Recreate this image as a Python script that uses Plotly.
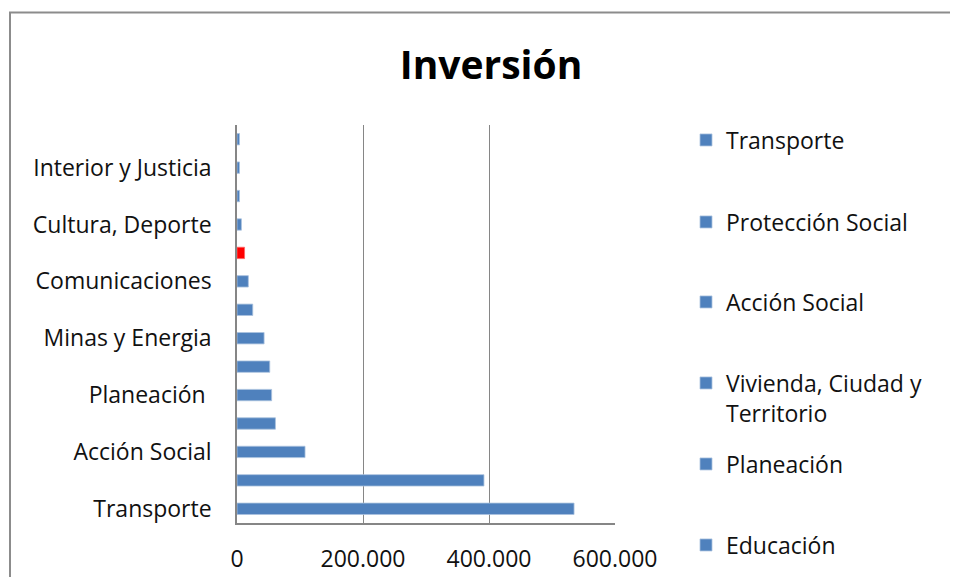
import plotly.graph_objects as go

# Data (bottom to top, as drawn)
categories = [
    "Transporte", "Protección Social", "Acción Social", "Vivienda, Ciudad y Territorio",
    "Planeación", "Educación", "Minas y Energia", "Agricultura", "Comunicaciones",
    "Salud", "Cultura, Deporte", "Ambiente", "Interior y Justicia", "Hacienda",
]
values = [535000, 392000, 108000, 61000, 55000, 52000, 43000, 25000, 18000,
          12000, 7000, 4000, 4000, 4000]
bar_colors = ["#4F81BD"] * 9 + ["#FF0000"] + ["#4F81BD"] * 4

tick_categories = ["Transporte", "Acción Social", "Planeación", "Minas y Energia",
                   "Comunicaciones", "Cultura, Deporte", "Interior y Justicia"]
tick_texts = ["Transporte", "Acción Social", "Planeación\u00a0", "Minas y Energia",
              "Comunicaciones", "Cultura, Deporte", "Interior y Justicia"]

legend_names = ["Transporte", "Protección Social", "Acción Social",
                "Vivienda, Ciudad y<br>Territorio", "Planeación", "Educación"]
legend_centers_px = [140, 222, 302, 398, 464, 545]

x_ticks = [0, 200000, 400000, 600000]
x_tick_text = ["0", "200.000", "400.000", "600.000"]

# page has an 8px body margin on every side: keep the figure inside the window
OFF = 8
W, H = 958 - 2 * OFF, 585 - 2 * OFF
FONT = "Open Sans"
FS = 23

def cx(p):  # reference x pixel -> container fraction
    return (p - OFF) / W

def cy(p):  # reference y pixel -> container fraction
    return 1 - (p - OFF) / H

fig = go.Figure()
for i, (cat, val, col) in enumerate(zip(categories, values, bar_colors)):
    show = i < len(legend_names)
    lg = "legend" if i == 0 else f"legend{i+1}"
    fig.add_trace(go.Bar(
        y=[cat], x=[val], orientation="h", width=0.4,
        marker=dict(color=col, line=dict(color="#A9C1DE" if col != "#FF0000" else "#FF6666", width=0.8)),
        name=legend_names[i] if show else cat,
        showlegend=show,
        legend=lg if show else None,
    ))

layout_legends = {}
for i, c in enumerate(legend_centers_px):
    key = "legend" if i == 0 else f"legend{i+1}"
    layout_legends[key] = dict(
        xref="container", yref="container",
        x=cx(686), y=cy(c), xanchor="left", yanchor="middle",
        bgcolor="rgba(0,0,0,0)", font=dict(family=FONT, size=FS, color="#111111"),
        valign="top", itemclick=False, itemdoubleclick=False,
    )

# plot area in reference pixels
L, R, T, B = 237, 615, 125, 523
l, r, t, b = L - OFF, W - (R - OFF), T - OFF, H - (B - OFF)
px2x = lambda p: (p - L) / (R - L)
px2y = lambda p: (B - p) / (B - T)

border_path = "M {x0},{y0} L {x0},{y1} L {x1},{y1}".format(
    x0=px2x(10), y0=px2y(640), y1=px2y(12.5), x1=px2x(1000))

fig.update_layout(
    width=W, height=H, autosize=False,
    margin=dict(l=l, r=r, t=t, b=b, autoexpand=False),
    paper_bgcolor="white", plot_bgcolor="white",
    barmode="overlay",
    title=dict(text="<b>Inversión</b>", xref="container", yref="container",
               x=cx(491), y=cy(65), xanchor="center", yanchor="middle",
               font=dict(family=FONT, size=39, color="#000000")),
    font=dict(family=FONT, size=FS, color="#111111"),
    xaxis=dict(range=[0, 600000], tickvals=x_ticks, ticktext=x_tick_text,
               showgrid=True, gridcolor="#868686", gridwidth=1,
               showline=True, linecolor="#868686", linewidth=1.5, mirror=False,
               zeroline=False, ticks="", ticklabelstandoff=15, automargin=False,
               tickfont=dict(family=FONT, size=FS, color="#111111")),
    yaxis=dict(categoryorder="array", categoryarray=categories,
               tickvals=tick_categories, ticktext=tick_texts,
               range=[-0.5, len(categories) - 0.5],
               showgrid=False, showline=True, linecolor="#868686", linewidth=1.5,
               ticks="", ticklabelstandoff=19, automargin=False,
               tickfont=dict(family=FONT, size=FS, color="#111111")),
    shapes=[dict(type="path", xref="paper", yref="paper", path=border_path,
                 line=dict(color="#8C8C8C", width=2), layer="below")],
    **layout_legends,
)

fig.write_html("out.html")
